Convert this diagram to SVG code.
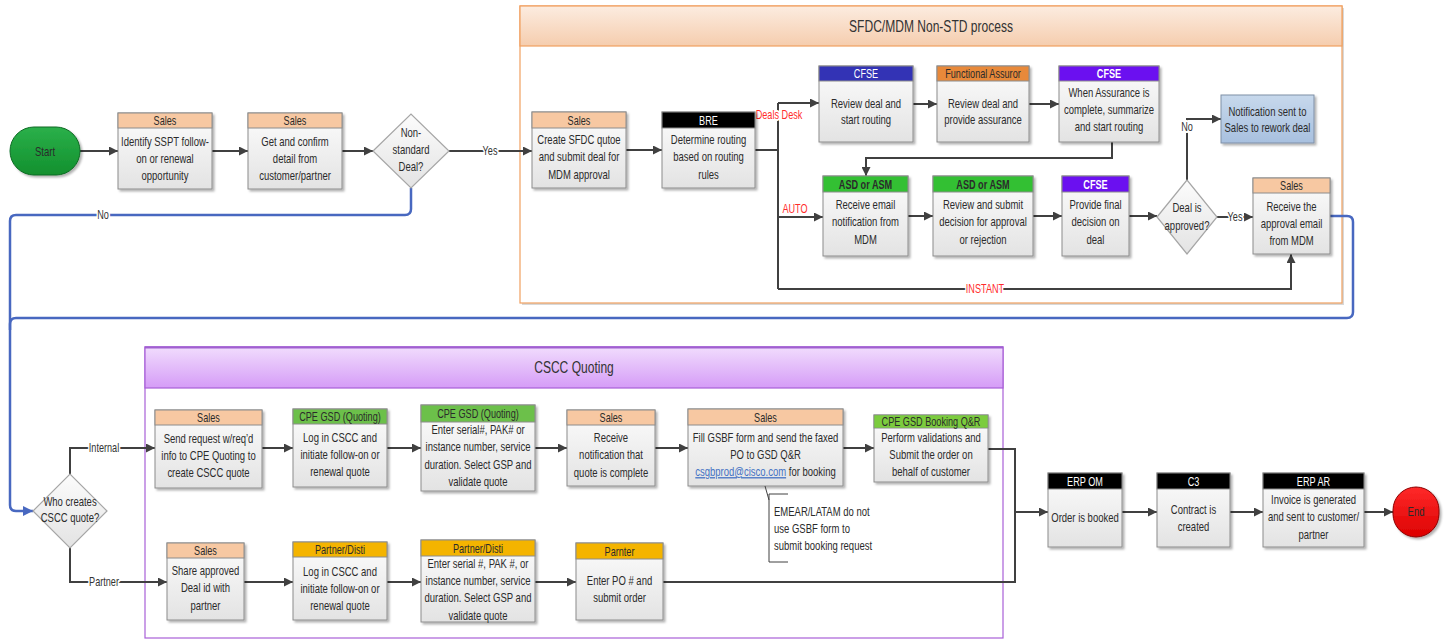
<svg xmlns="http://www.w3.org/2000/svg" width="1449" height="640" viewBox="0 0 1449 640">
<defs>
<linearGradient id="gb" x1="0" y1="0" x2="0" y2="1"><stop offset="0" stop-color="#fcfcfc"/><stop offset="1" stop-color="#e3e3e3"/></linearGradient>
<linearGradient id="gs" x1="0" y1="0" x2="0" y2="1"><stop offset="0" stop-color="#fcece0"/><stop offset="1" stop-color="#f5cdae"/></linearGradient>
<linearGradient id="gc" x1="0" y1="0" x2="0" y2="1"><stop offset="0" stop-color="#f1dcfd"/><stop offset="1" stop-color="#d59cf7"/></linearGradient>
<linearGradient id="gn" x1="0" y1="0" x2="0" y2="1"><stop offset="0" stop-color="#c7d8ec"/><stop offset="1" stop-color="#a8c0df"/></linearGradient>
<linearGradient id="gst" x1="0" y1="0" x2="0" y2="1"><stop offset="0" stop-color="#2bb04a"/><stop offset="1" stop-color="#12902e"/></linearGradient>
<linearGradient id="gen" x1="0" y1="0" x2="0" y2="1"><stop offset="0" stop-color="#ff2a2a"/><stop offset="1" stop-color="#dc0000"/></linearGradient>
<filter id="sh" x="-10%" y="-10%" width="130%" height="130%"><feDropShadow dx="2" dy="2" stdDeviation="1" flood-color="#000" flood-opacity="0.3"/></filter>
<marker id="ah" viewBox="0 0 10 10" refX="10" refY="5" markerWidth="10" markerHeight="9" markerUnits="userSpaceOnUse" orient="auto"><path d="M0,0 L10,5 L0,10 z" fill="#404040"/></marker>
<marker id="ab" viewBox="0 0 10 10" refX="10" refY="5" markerWidth="11" markerHeight="10" markerUnits="userSpaceOnUse" orient="auto"><path d="M0,0 L10,5 L0,10 z" fill="#4868c0"/></marker>
<style>
.t{font-family:"Liberation Sans",Arial,sans-serif;font-size:13px;fill:#2b2b2b;text-anchor:middle}
.s{text-anchor:start}
.h{font-size:12.5px}
.w{fill:#fff}
.b{font-weight:bold}
.ti{font-size:16.5px;fill:#333}
.l{font-size:12.5px;fill:#333;stroke:#fff;stroke-width:4px;paint-order:stroke;stroke-linejoin:round}
.r{fill:#ff2b2b}
.bx{fill:url(#gb);stroke:#8c8c8c;stroke-width:1;filter:url(#sh)}
.hd{stroke:#8c8c8c;stroke-width:1}
.sa{fill:#f7c8a2}.bk{fill:#000}.bl{fill:#3333b5}.or{fill:#e8893a}.pu{fill:#6b10f0}.gr{fill:#33c033}.lg{fill:#6cc04a}.ye{fill:#f4b400}
.dm{fill:url(#gb);stroke:#a6a6a6;stroke-width:1.2}
.c{fill:none;stroke:#404040;stroke-width:2;marker-end:url(#ah)}
.cl{fill:none;stroke:#404040;stroke-width:2}
.bu{fill:none;stroke:#4868c0;stroke-width:2.5}
</style>
</defs>
<rect width="1449" height="640" fill="#fff"/>

<g id="sfdc-container">
<rect x="522" y="8" width="822" height="297" fill="#d8d8d8"/>
<rect x="520" y="6" width="822" height="297" fill="#fff" stroke="#f0a060" stroke-width="1.2"/>
<rect x="520" y="6" width="822" height="40" fill="url(#gs)" stroke="#f0a060" stroke-width="1.2"/>
<text class="t ti" transform="matrix(.73 0 0 1 931 32)">SFDC/MDM Non-STD process</text>
</g>
<g id="cscc-container">
<rect x="145" y="347" width="858" height="291" fill="#fff" stroke="#a860d8" stroke-width="1.2"/>
<rect x="145" y="347" width="858" height="41" fill="url(#gc)" stroke="#a860d8" stroke-width="1.2"/>
<line x1="145" y1="347.5" x2="1003" y2="347.5" stroke="#a060d0" stroke-width="2"/>
<text class="t ti" transform="matrix(.73 0 0 1 574 373)">CSCC Quoting</text>
</g>

<g id="connectors">
<path class="c" d="M80,151 H118"/>
<path class="c" d="M212,151 H248"/>
<path class="c" d="M342,151 H373"/>
<path class="c" d="M449,151 H532"/>
<path class="c" d="M626,150 H662"/>
<path class="cl" d="M755,150 H778"/>
<path class="cl" d="M778,103 V289"/>
<path class="c" d="M778,103 H819"/>
<path class="c" d="M778,217 H823"/>
<path class="c" d="M778,289 H1291 V254"/>
<path class="c" d="M913,104 H937"/>
<path class="c" d="M1029,104 H1059"/>
<path class="c" d="M1112,142 V158 H866 V176"/>
<path class="c" d="M908,216 H933"/>
<path class="c" d="M1033,216 H1062"/>
<path class="c" d="M1129,216 H1157"/>
<path class="c" d="M1187,180 V119 H1221"/>
<path class="c" d="M1217,217 H1253"/>
<path class="bu" d="M1330,216 H1347 Q1353,216 1353,222 V312 Q1353,318 1347,318 H16 Q10,318 10,324 V330"/>
<path class="bu" d="M411,188 V209 Q411,215 405,215 H16 Q10,215 10,221 V505 Q10,511 16,511 H33" marker-end="url(#ab)"/>
<path class="c" d="M70,474 V448 H155"/>
<path class="c" d="M70,548 V582 H167"/>
<path class="c" d="M262,448 H293"/>
<path class="c" d="M387,448 H421"/>
<path class="c" d="M535,448 H567"/>
<path class="c" d="M655,448 H688"/>
<path class="c" d="M843,448 H874"/>
<path class="cl" d="M988,449 H1015 V582 H663"/>
<path class="c" d="M1015,512 H1048"/>
<path class="c" d="M244,582 H293"/>
<path class="c" d="M387,582 H421"/>
<path class="c" d="M535,582 H576"/>
<path class="c" d="M1122,512 H1157"/>
<path class="c" d="M1230,512 H1263"/>
<path class="c" d="M1364,512 H1393"/>
<text class="t l" transform="matrix(.73 0 0 1 490 155)">Yes</text>
<text class="t l" transform="matrix(.73 0 0 1 103 219)">No</text>
<text class="t l r" transform="matrix(.73 0 0 1 779 119)">Deals Desk</text>
<text class="t l r" transform="matrix(.73 0 0 1 795 213)">AUTO</text>
<text class="t l r" transform="matrix(.73 0 0 1 985 293)">INSTANT</text>
<text class="t l" transform="matrix(.73 0 0 1 1187 131)">No</text>
<text class="t l" transform="matrix(.73 0 0 1 1235 221)">Yes</text>
<text class="t l" transform="matrix(.73 0 0 1 104 452)">Internal</text>
<text class="t l" transform="matrix(.73 0 0 1 104 586)">Partner</text>
</g>

<g id="start">
<rect x="10" y="127" width="70" height="48" rx="24" fill="url(#gst)" stroke="#0e6b24" stroke-width="1" filter="url(#sh)"/>
<text class="t" transform="matrix(.73 0 0 1 45 155.5)">Start</text>
</g>
<g id="sales-identify">
<rect class="bx" x="118" y="113" width="94" height="76"/><rect class="hd sa" x="118" y="113" width="94" height="15"/>
<text class="t h" transform="matrix(.73 0 0 1 165 124.5)">Sales</text>
<text class="t" transform="matrix(.73 0 0 1 165 146)"><tspan x="0">Identify SSPT follow-</tspan><tspan x="0" dy="17">on or renewal</tspan><tspan x="0" dy="17">opportunity</tspan></text>
</g>
<g id="sales-confirm">
<rect class="bx" x="248" y="113" width="94" height="76"/><rect class="hd sa" x="248" y="113" width="94" height="15"/>
<text class="t h" transform="matrix(.73 0 0 1 295 124.5)">Sales</text>
<text class="t" transform="matrix(.73 0 0 1 295 146)"><tspan x="0">Get and confirm</tspan><tspan x="0" dy="17">detail from</tspan><tspan x="0" dy="17">customer/partner</tspan></text>
</g>
<g id="dec-nonstd">
<polygon class="dm" points="373,151 411,114 449,151 411,188"/>
<text class="t" transform="matrix(.73 0 0 1 411 137)"><tspan x="0">Non-</tspan><tspan x="0" dy="17">standard</tspan><tspan x="0" dy="17">Deal?</tspan></text>
</g>
<g id="sales-create">
<rect class="bx" x="532" y="112" width="94" height="76"/><rect class="hd sa" x="532" y="112" width="94" height="16"/>
<text class="t h" transform="matrix(.73 0 0 1 579 124.5)">Sales</text>
<text class="t" transform="matrix(.73 0 0 1 579 144)"><tspan x="0">Create SFDC qutoe</tspan><tspan x="0" dy="17.5">and submit deal for</tspan><tspan x="0" dy="17.5">MDM approval</tspan></text>
</g>
<g id="bre">
<rect class="bx" x="662" y="112" width="93" height="76"/><rect class="hd bk" x="662" y="112" width="93" height="16"/>
<text class="t h w" transform="matrix(.73 0 0 1 708.5 124.5)">BRE</text>
<text class="t" transform="matrix(.73 0 0 1 708.5 144)"><tspan x="0">Determine routing</tspan><tspan x="0" dy="17.5">based on routing</tspan><tspan x="0" dy="17.5">rules</tspan></text>
</g>
<g id="cfse-review">
<rect class="bx" x="819" y="66" width="94" height="76"/><rect class="hd bl" x="819" y="66" width="94" height="15"/>
<text class="t h w" transform="matrix(.73 0 0 1 866 78)">CFSE</text>
<text class="t" transform="matrix(.73 0 0 1 866 107.5)"><tspan x="0">Review deal and</tspan><tspan x="0" dy="17">start routing</tspan></text>
</g>
<g id="functional-assuror">
<rect class="bx" x="937" y="66" width="92" height="76"/><rect class="hd or" x="937" y="66" width="92" height="15"/>
<text class="t h" transform="matrix(.73 0 0 1 983 78)">Functional Assuror</text>
<text class="t" transform="matrix(.73 0 0 1 983 107.5)"><tspan x="0">Review deal and</tspan><tspan x="0" dy="17">provide assurance</tspan></text>
</g>
<g id="cfse-summarize">
<rect class="bx" x="1059" y="66" width="100" height="76"/><rect class="hd pu" x="1059" y="66" width="100" height="15"/>
<text class="t h w b" transform="matrix(.73 0 0 1 1109 78)">CFSE</text>
<text class="t" transform="matrix(.73 0 0 1 1109 96.5)"><tspan x="0">When Assurance is</tspan><tspan x="0" dy="17.5">complete, summarize</tspan><tspan x="0" dy="17.5">and start routing</tspan></text>
</g>
<g id="asd-receive">
<rect class="bx" x="823" y="176" width="85" height="80"/><rect class="hd gr" x="823" y="176" width="85" height="16"/>
<text class="t h b" transform="matrix(.73 0 0 1 865.5 188.5)">ASD or ASM</text>
<text class="t" transform="matrix(.73 0 0 1 865.5 209)"><tspan x="0">Receive email</tspan><tspan x="0" dy="17.5">notification from</tspan><tspan x="0" dy="17.5">MDM</tspan></text>
</g>
<g id="asd-review">
<rect class="bx" x="933" y="176" width="100" height="80"/><rect class="hd gr" x="933" y="176" width="100" height="16"/>
<text class="t h b" transform="matrix(.73 0 0 1 983 188.5)">ASD or ASM</text>
<text class="t" transform="matrix(.73 0 0 1 983 209)"><tspan x="0">Review and submit</tspan><tspan x="0" dy="17.5">decision for approval</tspan><tspan x="0" dy="17.5">or rejection</tspan></text>
</g>
<g id="cfse-final">
<rect class="bx" x="1062" y="176" width="67" height="80"/><rect class="hd pu" x="1062" y="176" width="67" height="16"/>
<text class="t h w b" transform="matrix(.73 0 0 1 1095.5 188.5)">CFSE</text>
<text class="t" transform="matrix(.73 0 0 1 1095.5 209)"><tspan x="0">Provide final</tspan><tspan x="0" dy="17.5">decision on</tspan><tspan x="0" dy="17.5">deal</tspan></text>
</g>
<g id="dec-approved">
<polygon class="dm" points="1157,217 1187,180 1217,217 1187,254"/>
<text class="t" transform="matrix(.73 0 0 1 1187 212)"><tspan x="0">Deal is</tspan><tspan x="0" dy="18">approved?</tspan></text>
</g>
<g id="notification">
<rect x="1221" y="95" width="93" height="48" fill="url(#gn)" stroke="#7f8fa6" stroke-width="1" filter="url(#sh)"/>
<text class="t" transform="matrix(.73 0 0 1 1267.5 115.5)"><tspan x="0">Notification sent to</tspan><tspan x="0" dy="17">Sales to rework deal</tspan></text>
</g>
<g id="sales-approval">
<rect class="bx" x="1253" y="178" width="77" height="76"/><rect class="hd sa" x="1253" y="178" width="77" height="15"/>
<text class="t h" transform="matrix(.73 0 0 1 1291.5 190)">Sales</text>
<text class="t" transform="matrix(.73 0 0 1 1291.5 210.5)"><tspan x="0">Receive the</tspan><tspan x="0" dy="17.5">approval email</tspan><tspan x="0" dy="17.5">from MDM</tspan></text>
</g>

<g id="dec-who">
<polygon class="dm" points="33,511 70,474 107,511 70,548"/>
<text class="t" transform="matrix(.73 0 0 1 70 506)"><tspan x="0">Who creates</tspan><tspan x="0" dy="16">CSCC quote?</tspan></text>
</g>
<g id="sales-send">
<rect class="bx" x="155" y="410" width="107" height="78"/><rect class="hd sa" x="155" y="410" width="107" height="15"/>
<text class="t h" transform="matrix(.73 0 0 1 208.5 422)">Sales</text>
<text class="t" transform="matrix(.73 0 0 1 208.5 443)"><tspan x="0">Send request w/req’d</tspan><tspan x="0" dy="17">info to CPE Quoting to</tspan><tspan x="0" dy="17">create CSCC quote</tspan></text>
</g>
<g id="cpe-login">
<rect class="bx" x="293" y="409" width="94" height="78"/><rect class="hd lg" x="293" y="409" width="94" height="15"/>
<text class="t h" transform="matrix(.73 0 0 1 340 421)">CPE GSD (Quoting)</text>
<text class="t" transform="matrix(.73 0 0 1 340 442)"><tspan x="0">Log in CSCC and</tspan><tspan x="0" dy="17">initiate follow-on or</tspan><tspan x="0" dy="17">renewal quote</tspan></text>
</g>
<g id="cpe-enter">
<rect class="bx" x="421" y="405" width="114" height="86"/><rect class="hd lg" x="421" y="405" width="114" height="17"/>
<text class="t h" transform="matrix(.73 0 0 1 478 418)">CPE GSD (Quoting)</text>
<text class="t" transform="matrix(.73 0 0 1 478 434)"><tspan x="0">Enter serial#, PAK# or</tspan><tspan x="0" dy="17.3">instance number, service</tspan><tspan x="0" dy="17.3">duration. Select GSP and</tspan><tspan x="0" dy="17.3">validate quote</tspan></text>
</g>
<g id="sales-receive">
<rect class="bx" x="567" y="410" width="88" height="76"/><rect class="hd sa" x="567" y="410" width="88" height="15"/>
<text class="t h" transform="matrix(.73 0 0 1 611 422)">Sales</text>
<text class="t" transform="matrix(.73 0 0 1 611 442)"><tspan x="0">Receive</tspan><tspan x="0" dy="17.5">notification that</tspan><tspan x="0" dy="17.5">quote is complete</tspan></text>
</g>
<g id="sales-fill">
<rect class="bx" x="688" y="409" width="155" height="77"/><rect class="hd sa" x="688" y="409" width="155" height="16"/>
<text class="t h" transform="matrix(.73 0 0 1 765.5 421.5)">Sales</text>
<text class="t" transform="matrix(.73 0 0 1 765.5 442)"><tspan x="0">Fill GSBF form and send the faxed</tspan><tspan x="0" dy="17">PO to GSD Q&amp;R</tspan><tspan x="0" dy="17"><tspan fill="#4472c4" text-decoration="underline">csgbprod@cisco.com</tspan> for booking</tspan></text>
</g>
<g id="booking-qr">
<rect class="bx" x="874" y="415" width="114" height="67"/><rect class="hd lg" x="874" y="415" width="114" height="13"/>
<rect x="874.5" y="415.5" width="113" height="12" fill="#7ccc3e"/>
<text class="t h" transform="matrix(.73 0 0 1 931 426)">CPE GSD Booking Q&amp;R</text>
<text class="t" transform="matrix(.73 0 0 1 931 442)"><tspan x="0">Perform validations and</tspan><tspan x="0" dy="17">Submit the order on</tspan><tspan x="0" dy="17">behalf of customer</tspan></text>
</g>
<g id="annotation">
<path d="M765,486 L769,500 M788,494 H769 V562 H788" fill="none" stroke="#404040" stroke-width="1"/>
<text class="t s" transform="matrix(.73 0 0 1 774 516)"><tspan x="0">EMEAR/LATAM do not</tspan><tspan x="0" dy="17">use GSBF form to</tspan><tspan x="0" dy="17">submit booking request</tspan></text>
</g>
<g id="sales-share">
<rect class="bx" x="167" y="543" width="77" height="77"/><rect class="hd sa" x="167" y="543" width="77" height="15"/>
<text class="t h" transform="matrix(.73 0 0 1 205.5 554.5)">Sales</text>
<text class="t" transform="matrix(.73 0 0 1 205.5 575)"><tspan x="0">Share approved</tspan><tspan x="0" dy="17.5">Deal id with</tspan><tspan x="0" dy="17.5">partner</tspan></text>
</g>
<g id="partner-login">
<rect class="bx" x="293" y="542" width="94" height="78"/><rect class="hd ye" x="293" y="542" width="94" height="15"/>
<text class="t h" transform="matrix(.73 0 0 1 340 554)">Partner/Disti</text>
<text class="t" transform="matrix(.73 0 0 1 340 576)"><tspan x="0">Log in CSCC and</tspan><tspan x="0" dy="17">initiate follow-on or</tspan><tspan x="0" dy="17">renewal quote</tspan></text>
</g>
<g id="partner-enter">
<rect class="bx" x="421" y="540" width="114" height="82"/><rect class="hd ye" x="421" y="540" width="114" height="16"/>
<text class="t h" transform="matrix(.73 0 0 1 478 552.5)">Partner/Disti</text>
<text class="t" transform="matrix(.73 0 0 1 478 568)"><tspan x="0">Enter serial #, PAK #, or</tspan><tspan x="0" dy="17.2">instance number, service</tspan><tspan x="0" dy="17.2">duration. Select GSP and</tspan><tspan x="0" dy="17.2">validate quote</tspan></text>
</g>
<g id="parnter-po">
<rect class="bx" x="576" y="543" width="87" height="77"/><rect class="hd ye" x="576" y="543" width="87" height="16"/>
<text class="t h" transform="matrix(.73 0 0 1 619.5 555.5)">Parnter</text>
<text class="t" transform="matrix(.73 0 0 1 619.5 585)"><tspan x="0">Enter PO # and</tspan><tspan x="0" dy="17">submit order</tspan></text>
</g>
<g id="erp-om">
<rect class="bx" x="1048" y="473" width="74" height="74"/><rect class="hd bk" x="1048" y="473" width="74" height="16"/>
<text class="t h w" transform="matrix(.73 0 0 1 1085 485.5)">ERP OM</text>
<text class="t" transform="matrix(.73 0 0 1 1085 522)">Order is booked</text>
</g>
<g id="c3">
<rect class="bx" x="1157" y="473" width="73" height="74"/><rect class="hd bk" x="1157" y="473" width="73" height="16"/>
<text class="t h w" transform="matrix(.73 0 0 1 1193.5 485.5)">C3</text>
<text class="t" transform="matrix(.73 0 0 1 1193.5 514)"><tspan x="0">Contract is</tspan><tspan x="0" dy="17">created</tspan></text>
</g>
<g id="erp-ar">
<rect class="bx" x="1263" y="473" width="101" height="74"/><rect class="hd bk" x="1263" y="473" width="101" height="16"/>
<text class="t h w" transform="matrix(.73 0 0 1 1313.5 485.5)">ERP AR</text>
<text class="t" transform="matrix(.73 0 0 1 1313.5 504)"><tspan x="0">Invoice is generated</tspan><tspan x="0" dy="17.5">and sent to customer/</tspan><tspan x="0" dy="17.5">partner</tspan></text>
</g>
<g id="end">
<rect x="1393" y="487" width="46" height="50" rx="23" fill="url(#gen)" stroke="#8c0000" stroke-width="1" filter="url(#sh)"/>
<text class="t" transform="matrix(.73 0 0 1 1416 516)">End</text>
</g>
</svg>
